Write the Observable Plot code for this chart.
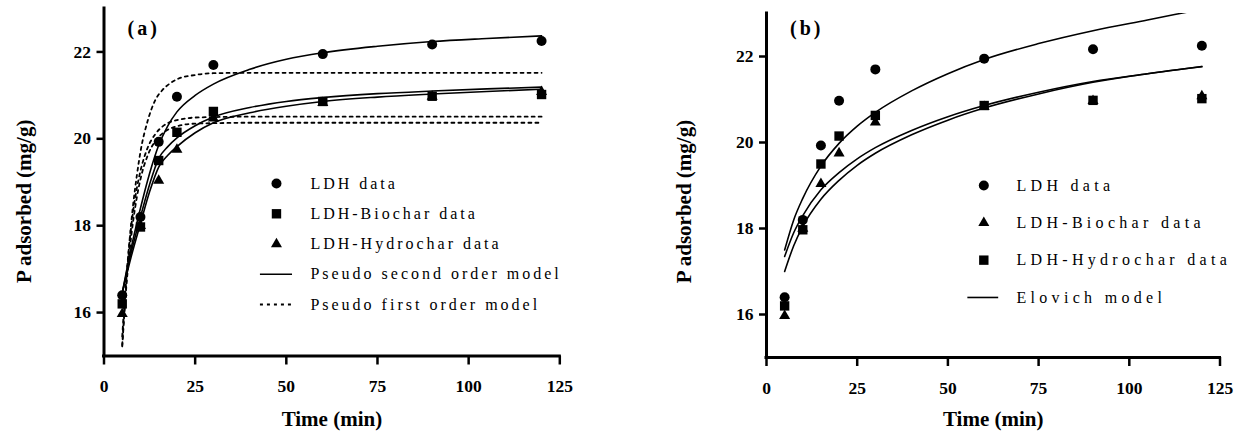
<!DOCTYPE html>
<html>
<head>
<meta charset="utf-8">
<script src="https://cdn.jsdelivr.net/npm/d3@7"></script>
<script src="https://cdn.jsdelivr.net/npm/@observablehq/plot@0.6"></script>
<style>
  body { margin: 0; background: #fff; }
  #wrap { display: flex; width: 1238px; height: 434px; overflow: hidden; }
  #wrap svg { display: block; flex: none; }
  #wrap svg text { font-family: 'Liberation Serif', 'Times New Roman', Times, serif !important; font-variant: normal !important; }
</style>
</head>
<body>
<div id="wrap"></div>
<script>
// ---- measured data (time in min, P adsorbed in mg/g) ----
const time = [5, 10, 15, 20, 30, 60, 90, 120];
const ldhData = [16.4, 18.2, 19.93, 20.97, 21.7, 21.95, 22.17, 22.25];
const squareData = [16.2, 17.97, 19.5, 20.15, 20.63, 20.86, 20.98, 21.02];
const triangleData = [15.97, 18.0, 19.04, 19.75, 20.47, 20.83, 20.97, 21.08];

// ---- panel (a) model curves ----
const tPSO = [5, 7.5, 10, 12.5, 15, 17.5, 20, 25, 30, 40, 50, 60, 75, 90, 105, 120];
const psoLDH = [16.45, 17.5, 18.4, 19.2, 19.85, 20.3, 20.62, 21.0, 21.26, 21.6, 21.83, 21.98, 22.13, 22.24, 22.31, 22.37];
const psoBio = [16.45, 17.4, 18.2, 18.95, 19.55, 19.82, 20.02, 20.3, 20.5, 20.72, 20.86, 20.95, 21.04, 21.1, 21.15, 21.19];
const psoHyd = [16.45, 17.3, 18.05, 18.78, 19.35, 19.62, 19.82, 20.14, 20.37, 20.6, 20.75, 20.86, 20.96, 21.03, 21.09, 21.14];

const tPFO = [5, 6, 7, 8, 9, 10, 12, 14, 16, 18, 20, 25, 30, 40, 60, 90, 120];
const pfoLDH = [15.25, 16.57, 17.65, 18.49, 19.15, 19.7, 20.42, 20.88, 21.12, 21.27, 21.37, 21.47, 21.51, 21.52, 21.52, 21.52, 21.52];
const pfoBio = [15.45, 16.69, 17.62, 18.33, 18.86, 19.26, 19.8, 20.1, 20.28, 20.38, 20.43, 20.49, 20.5, 20.51, 20.51, 20.51, 20.51];
const pfoHyd = [15.22, 16.46, 17.4, 18.11, 18.65, 19.07, 19.62, 19.94, 20.12, 20.23, 20.29, 20.35, 20.36, 20.37, 20.37, 20.37, 20.37];

// ---- panel (b) Elovich curves ----
const tElo = [5, 7.5, 10, 15, 20, 25, 30, 40, 50, 60, 75, 90, 105, 120];
const eloLDH = [17.5, 18.2, 18.7, 19.45, 19.98, 20.38, 20.7, 21.2, 21.6, 21.93, 22.3, 22.6, 22.85, 23.1];
const eloUpper = [17.35, 17.9, 18.3, 18.9, 19.3, 19.62, 19.88, 20.28, 20.6, 20.86, 21.17, 21.42, 21.6, 21.77];
const eloLower = [17.0, 17.6, 18.05, 18.68, 19.12, 19.47, 19.75, 20.18, 20.52, 20.8, 21.13, 21.4, 21.6, 21.76];

// ---- axes & labels ----
const xTicks = [0, 25, 50, 75, 100, 125];
const yTicks = [16, 18, 20, 22];
const xLabel = "Time (min)";
const yLabel = "P adsorbed (mg/g)";
const legendA = ["LDH data", "LDH-Biochar data", "LDH-Hydrochar data", "Pseudo second order model", "Pseudo first order model"];
const legendB = ["LDH data", "LDH-Biochar data", "LDH-Hydrochar data", "Elovich model"];

const FONT = "'Liberation Serif', 'Times New Roman', Times, serif";
const R_CIRCLE = 5, R_SQUARE = 5.3, R_TRI = 4.1;

function baseMarks(c) {
  return [
    Plot.axisX({ticks: xTicks, tickSize: 9, tickPadding: 15, strokeWidth: 2.5, label: null, fontFamily: FONT, fontSize: 17.5, fontWeight: "bold", fontVariant: "normal"}),
    Plot.axisY({ticks: yTicks, tickSize: 7, tickPadding: 6, strokeWidth: 2.5, label: null, fontFamily: FONT, fontSize: 17.5, fontWeight: "bold", fontVariant: "normal"}),
    Plot.ruleX([0], {strokeWidth: 3, strokeLinecap: "square"}),
    Plot.ruleY([15], {strokeWidth: 3, strokeLinecap: "square"}),
    Plot.text([xLabel], {frameAnchor: "bottom", lineAnchor: "middle", textAnchor: "middle", dy: c.xLabelDy, fontSize: 21, fontWeight: "bold"}),
    Plot.text([yLabel], {frameAnchor: "left", lineAnchor: "middle", textAnchor: "middle", rotate: -90, dx: c.yLabelDx, dy: c.yLabelDy, fontSize: 21, fontWeight: "bold"}),
    Plot.text([c.tag], {frameAnchor: "top-left", lineAnchor: "middle", textAnchor: "start", dx: 23.5, dy: c.tagDy, fontSize: 20, fontWeight: "bold"})
  ];
}

function dataMarks() {
  return [
    Plot.dot(time, {x: time, y: ldhData, symbol: "circle", r: R_CIRCLE, fill: "black"}),
    Plot.dot(time, {x: time, y: squareData, symbol: "square", r: R_SQUARE, fill: "black"}),
    Plot.dot(time, {x: time, y: triangleData, symbol: "triangle", r: R_TRI, fill: "black"})
  ];
}

// ----- Panel (a) -----
const rowA = i => 18.97 - i * 0.696;
const legAx = {sym: 47.3, text: 56.6, l1: 42.9, l2: 51.7};
const svgA = Plot.plot({
  width: 619, height: 434,
  marginLeft: 103.5, marginRight: 59.7, marginTop: 8, marginBottom: 78.5,
  x: {domain: [0, 125]},
  y: {domain: [15, 23]},
  style: {fontFamily: FONT, fontSize: "17px", fontWeight: "bold", color: "black", background: "white"},
  marks: [
    ...baseMarks({tag: "(a)", xLabelDy: 63, yLabelDx: -80, yLabelDy: 19, tagDy: 20}),
    Plot.line(tPFO, {x: tPFO, y: pfoLDH, curve: "monotone-x", stroke: "black", strokeWidth: 1.8, strokeDasharray: "3,4"}),
    Plot.line(tPFO, {x: tPFO, y: pfoBio, curve: "monotone-x", stroke: "black", strokeWidth: 1.8, strokeDasharray: "3,4"}),
    Plot.line(tPFO, {x: tPFO, y: pfoHyd, curve: "monotone-x", stroke: "black", strokeWidth: 1.8, strokeDasharray: "3,4"}),
    Plot.line(tPSO, {x: tPSO, y: psoLDH, curve: "monotone-x", stroke: "black", strokeWidth: 1.6}),
    Plot.line(tPSO, {x: tPSO, y: psoBio, curve: "monotone-x", stroke: "black", strokeWidth: 1.6}),
    Plot.line(tPSO, {x: tPSO, y: psoHyd, curve: "monotone-x", stroke: "black", strokeWidth: 1.6}),
    ...dataMarks(),
    // legend
    Plot.dot([0], {x: () => legAx.sym, y: i => rowA(0), symbol: "circle", r: R_CIRCLE, fill: "black"}),
    Plot.dot([1], {x: () => legAx.sym, y: i => rowA(1), symbol: "square", r: R_SQUARE, fill: "black"}),
    Plot.dot([2], {x: () => legAx.sym, y: i => rowA(2), symbol: "triangle", r: R_TRI, fill: "black"}),
    Plot.ruleY([rowA(3)], {x1: legAx.l1, x2: legAx.l2, stroke: "black", strokeWidth: 1.6}),
    Plot.ruleY([rowA(4)], {x1: legAx.l1, x2: legAx.l2, stroke: "black", strokeWidth: 1.8, strokeDasharray: "3,4"}),
    Plot.text(legendA, {x: () => legAx.text, y: (d, i) => rowA(i), textAnchor: "start", lineAnchor: "middle", fontSize: 16, fontWeight: "normal"})
  ]
});

// ----- Panel (b) -----
const rowB = i => 19.0 - i * 0.868;
const legBx = {sym: 59.9, text: 68.9, l1: 55.5, l2: 64.0};
const svgB = Plot.plot({
  width: 619, height: 434,
  marginLeft: 147, marginRight: 18.5, marginTop: 13, marginBottom: 77,
  x: {domain: [0, 125]},
  y: {domain: [15, 23]},
  style: {fontFamily: FONT, fontSize: "17px", fontWeight: "bold", color: "black", background: "white"},
  marks: [
    ...baseMarks({tag: "(b)", xLabelDy: 62, yLabelDx: -82, yLabelDy: 16, tagDy: 15}),
    Plot.line(tElo, {x: tElo, y: eloLDH, curve: "monotone-x", stroke: "black", strokeWidth: 1.6, clip: true}),
    Plot.line(tElo, {x: tElo, y: eloUpper, curve: "monotone-x", stroke: "black", strokeWidth: 1.6}),
    Plot.line(tElo, {x: tElo, y: eloLower, curve: "monotone-x", stroke: "black", strokeWidth: 1.6}),
    ...dataMarks(),
    Plot.dot([0], {x: () => legBx.sym, y: i => rowB(0), symbol: "circle", r: R_CIRCLE, fill: "black"}),
    Plot.dot([1], {x: () => legBx.sym, y: i => rowB(1), symbol: "triangle", r: R_TRI, fill: "black"}),
    Plot.dot([2], {x: () => legBx.sym, y: i => rowB(2), symbol: "square", r: R_SQUARE, fill: "black"}),
    Plot.ruleY([rowB(3)], {x1: legBx.l1, x2: legBx.l2, stroke: "black", strokeWidth: 1.6}),
    Plot.text(legendB, {x: () => legBx.text, y: (d, i) => rowB(i), textAnchor: "start", lineAnchor: "middle", fontSize: 16, fontWeight: "normal"})
  ]
});

function spaceTexts(svg, labels, spacing) {
  d3.select(svg).selectAll("text")
    .filter(function () { return labels.includes(this.textContent); })
    .attr("letter-spacing", spacing)
    .style("letter-spacing", spacing);
}
spaceTexts(svgA, legendA, "3px");
spaceTexts(svgB, legendB, "4.3px");
spaceTexts(svgA, ["(a)"], "3px");
spaceTexts(svgB, ["(b)"], "3px");
d3.selectAll([svgA, svgB]).selectAll("text").attr("font-family", FONT).style("font-family", FONT);

const wrap = document.getElementById("wrap");
wrap.appendChild(svgA);
wrap.appendChild(svgB);
</script>
</body>
</html>
